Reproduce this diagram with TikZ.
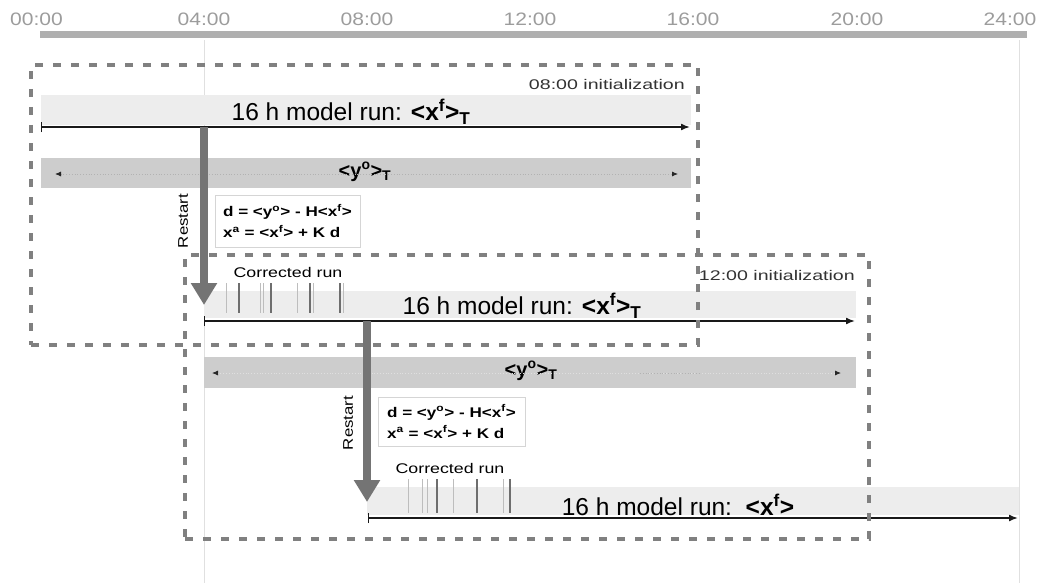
\documentclass[tikz,border=0pt]{standalone}
\usepackage{fontspec}
\setmainfont{Liberation Sans}
\usetikzlibrary{arrows.meta}
\definecolor{tlgray}{HTML}{9C9C9C}
\definecolor{bargray}{HTML}{AFAFAF}
\definecolor{lband}{HTML}{EDEDED}
\definecolor{dband}{HTML}{CDCDCD}
\definecolor{dashgray}{HTML}{808080}
\definecolor{restartgray}{HTML}{747474}
\definecolor{guidegray}{HTML}{E0E0E0}
\definecolor{fboxgray}{HTML}{D5D5D5}
\definecolor{ticklight}{HTML}{BDBDBD}
\definecolor{tickdark}{HTML}{6E6E6E}
\newcommand{\hs}[2]{\scalebox{#1}[1]{#2}}
\newcommand{\fs}[1]{\fontsize{#1}{#1}\selectfont}
\begin{document}
\begin{tikzpicture}[x=1pt,y=-1pt,
  tlab/.style={font=\fs{18}, text=tlgray, inner sep=0pt},
  bandL/.style={fill=lband, draw=none, inner sep=0pt},
  bandD/.style={fill=dband, draw=none, inner sep=0pt},
  runtext/.style={font=\fs{24.5}, inner sep=0pt},
  obstext/.style={font=\fs{20}\bfseries, inner sep=0pt},
  inittext/.style={font=\fs{14}, text=black!80, inner sep=0pt},
  dbox/.style={draw=dashgray, line width=4pt, dash pattern=on 8pt off 10pt, inner sep=0pt},
  runarrow/.style={line width=1.6pt, draw=black!90, {Bar[width=10pt 0 0,line width=1.2pt]}-{Latex[length=9pt 0 0,width=7pt 0 0]}},
  obsline/.style={line width=0.8pt, draw=gray!60, dotted, {Latex[length=6pt 0 0,width=5pt 0 0,black!85]}-{Latex[length=6pt 0 0,width=5pt 0 0,black!85]}},
  restart/.style={draw=restartgray, line width=8pt, -{Triangle[length=22pt 0 0,width=25pt 0 0,fill=restartgray]}},
  rtext/.style={font=\fs{14}, rotate=90, inner sep=0pt},
  formula/.style={draw=fboxgray, line width=0.8pt, font=\fontsize{14}{21}\selectfont\bfseries, align=left, inner sep=0pt},
  ctext/.style={font=\fs{14}, inner sep=0pt},
  guide/.style={draw=guidegray, line width=0.8pt},
  tkl/.style={draw=ticklight, line width=1pt},
  tkd/.style={draw=tickdark, line width=1.3pt},
]
\useasboundingbox (0,0) rectangle (1048,583);

% guide lines
\draw[guide] (204,40) -- (204,583);
\draw[guide] (1019,40) -- (1019,583);

% time axis
\node[fill=bargray, inner sep=0pt, minimum width=987pt, minimum height=7pt] (tbar) at (533.5,35) {};
\node[tlab] (t00) at (36.5,19.5) {\hs{1.17}{00:00}};
\node[tlab] (t04) at (204,19.5) {\hs{1.17}{04:00}};
\node[tlab] (t08) at (367,19.5) {\hs{1.17}{08:00}};
\node[tlab] (t12) at (530,19.5) {\hs{1.17}{12:00}};
\node[tlab] (t16) at (693,19.5) {\hs{1.17}{16:00}};
\node[tlab] (t20) at (857,19.5) {\hs{1.17}{20:00}};
\node[tlab] (t24) at (1010,19.5) {\hs{1.17}{24:00}};

% ---------- 08:00 initialization ----------
\node[bandL, minimum width=650pt, minimum height=29pt] (b1) at (366,110) {};
\node[runtext] (r1) at (351,112) {16 h model run: \textbf{<x\textsuperscript{f}>\textsubscript{T}}};
\coordinate (a1s) at (41,127);
\coordinate (a1e) at (690,127);
\draw[runarrow] (a1s) -- (a1e);

\node[bandD, minimum width=650pt, minimum height=30pt] (b2) at (366,173) {};
\node[obstext] (o1) at (365,172) {<y\textsuperscript{o}>\textsubscript{T}};
\coordinate (o1s) at (55,174);
\coordinate (o1e) at (678,174);
\draw[obsline] (o1s) -- (o1e);

\node[formula, minimum width=145pt, minimum height=52pt] (f1) at (287.5,221)
  {\hs{1.22}{d = <y\textsuperscript{o}> - H<x\textsuperscript{f}>}\\
   \hs{1.22}{x\textsuperscript{a} = <x\textsuperscript{f}> + K d}};
\node[rtext] (rs1) at (183,221) {\hs{1.2}{Restart}};

% ---------- 12:00 initialization ----------
\node[bandL, minimum width=652pt, minimum height=27pt] (b3) at (530,304.5) {};
\node[runtext] (r2) at (522,306) {16 h model run: \textbf{<x\textsuperscript{f}>\textsubscript{T}}};
\coordinate (a2s) at (204,321);
\coordinate (a2e) at (855,321);
\draw[runarrow] (a2s) -- (a2e);

\node[ctext] (c1) at (288,272) {\hs{1.27}{Corrected run}};
\foreach \x in {226,260,263,297,313,343} \draw[tkl] (\x,283) -- (\x,313);
\foreach \x in {239,271,310,340} \draw[tkd] (\x,283) -- (\x,313);

\node[bandD, minimum width=652pt, minimum height=31pt] (b4) at (530,372.5) {};
\node[obstext] (o2) at (531,371) {<y\textsuperscript{o}>\textsubscript{T}};
\coordinate (o2s) at (212,373);
\coordinate (o2e) at (841,373);
\draw[obsline, draw=gray!25] (o2s) -- (o2e);
\draw[line width=0.8pt, draw=gray!60, dotted] (640,373) -- (700,373);

\node[formula, minimum width=147pt, minimum height=49pt] (f2) at (451.5,421.5)
  {\hs{1.22}{d = <y\textsuperscript{o}> - H<x\textsuperscript{f}>}\\
   \hs{1.22}{x\textsuperscript{a} = <x\textsuperscript{f}> + K d}};
\node[rtext] (rs2) at (348,423) {\hs{1.2}{Restart}};

% ---------- third run ----------
\node[bandL, minimum width=652pt, minimum height=28pt] (b5) at (693,501) {};
\node[runtext] (r3) at (678,505) {16 h model run:\ \ \textbf{<x\textsuperscript{f}>}};
\coordinate (a3s) at (368,518);
\coordinate (a3e) at (1018,518);
\draw[runarrow] (a3s) -- (a3e);

\node[ctext] (c2) at (450,468) {\hs{1.27}{Corrected run}};
\foreach \x in {408,422,427,453,503} \draw[tkl] (\x,479) -- (\x,513);
\foreach \x in {437,477,510} \draw[tkd] (\x,479) -- (\x,513);

% ---------- dashed initialization frames ----------
\node[dbox, minimum width=667pt, minimum height=280pt] (box1) at (364.5,205) {};
\node[inittext, anchor=east] (i1) at (685,84) {\hs{1.4}{08:00 initialization}};
\node[dbox, minimum width=684pt, minimum height=284pt] (box2) at (527,397) {};
\node[inittext, anchor=east] (i2) at (855,275) {\hs{1.4}{12:00 initialization}};

% ---------- restart arrows ----------
\coordinate (rs1s) at (204,127);
\coordinate (rs1e) at (204,305);
\draw[restart] (rs1s) -- (rs1e);
\coordinate (rs2s) at (367,321);
\coordinate (rs2e) at (367,502);
\draw[restart] (rs2s) -- (rs2e);
\end{tikzpicture}
\end{document}
